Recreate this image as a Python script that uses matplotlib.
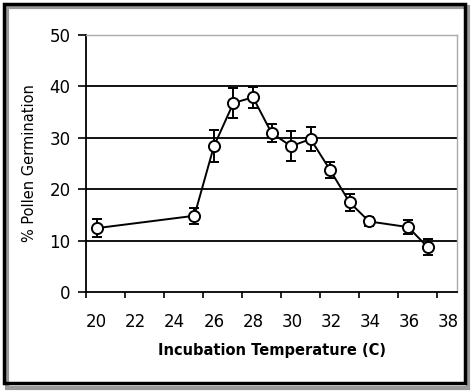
import matplotlib
matplotlib.use("Agg")
import matplotlib.pyplot as plt
import matplotlib.transforms as mtransforms
from matplotlib.patches import Rectangle

# dados
temperatura = [20.55, 25.55, 26.55, 27.55, 28.55, 29.5, 30.5, 31.5, 32.5, 33.5, 34.5, 36.5, 37.5]
germinacao = [12.4, 14.8, 28.3, 36.7, 37.8, 30.9, 28.3, 29.7, 23.7, 17.4, 13.7, 12.6, 8.7]
erro = [1.8, 1.6, 3.1, 2.9, 2.0, 1.8, 2.9, 2.3, 1.6, 1.7, 0.9, 1.3, 1.5]

x_ticks = [20, 22, 24, 26, 28, 30, 32, 34, 36, 38]
y_ticks = [0, 10, 20, 30, 40, 50]

fig = plt.figure(figsize=(4.74, 3.92), dpi=100)
ax = fig.add_axes([86 / 474, 1 - 292 / 392, 371 / 474, 257.5 / 392])

# linhas de grade horizontais
for y in y_ticks[1:-1]:
    ax.axhline(y, color="#111111", lw=1.4, zorder=1)

ax.errorbar(temperatura, germinacao, yerr=erro, color="black", lw=1.4,
            elinewidth=1.4, capsize=3.5, capthick=1.4, marker="o",
            markersize=8, markerfacecolor="white", markeredgecolor="black",
            markeredgewidth=1.4, zorder=3)

ax.set_xlim(20, 39)
ax.set_ylim(0, 50)
ax.set_xticks(x_ticks)
ax.set_yticks(y_ticks)
ax.tick_params(axis="x", direction="out", length=4, width=1.2, pad=11, labelsize=12)
ax.tick_params(axis="y", direction="out", length=6, width=1.2, pad=5, labelsize=12)

# rótulos do eixo x deslocados para a direita, como no original
offset = mtransforms.ScaledTranslation(10.7 / 100, 0, fig.dpi_scale_trans)
for lbl in ax.get_xticklabels():
    lbl.set_transform(lbl.get_transform() + offset)

for s in ["left", "bottom"]:
    ax.spines[s].set_linewidth(1.3)
    ax.spines[s].set_color("black")
for s in ["right", "top"]:
    ax.spines[s].set_linewidth(1.0)
    ax.spines[s].set_color("#aaaaaa")

ax.set_ylabel("% Pollen Germination", fontsize=10.5, labelpad=9)
ax.set_xlabel("Incubation Temperature (C)", fontsize=10.5, fontweight="bold", labelpad=9)

# moldura com sombra
fig.add_artist(Rectangle((7 / 474, 1 - 388 / 392), 461 / 474, 381 / 392,
                         transform=fig.transFigure, fill=False, lw=3, ec="#9a9a9a"))
fig.add_artist(Rectangle((4 / 474, 1 - 383 / 392), 461 / 474, 379 / 392,
                         transform=fig.transFigure, fill=False, lw=2.5, ec="black"))

fig.savefig("out.png", dpi=100)
